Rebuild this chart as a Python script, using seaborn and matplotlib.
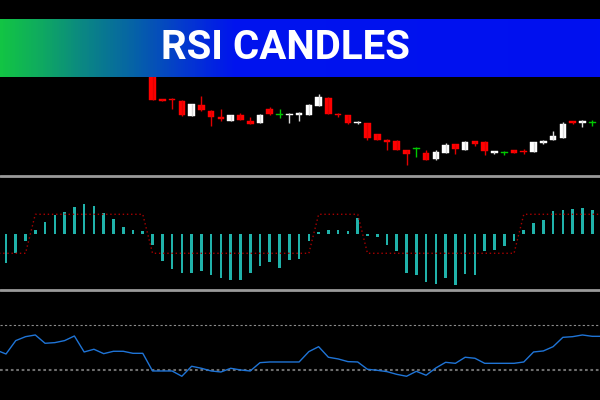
import numpy as np
import matplotlib.pyplot as plt
import seaborn as sns
from matplotlib.colors import LinearSegmentedColormap
from matplotlib.lines import Line2D

title = 'RSI CANDLES'

# candles for bars 15..60, earlier ones are above the visible window
candle_idx = list(range(15, 61))
opens = [130, 101, 101.3, 99, 84.3, 95, 89.3, 83, 79.3, 84.7, 78.7, 77.3, 91.3, 85, 84.7, 85,
         84.7, 94, 102.3, 85.5, 85, 76.7, 77.3, 66.3, 60, 59, 50.3, 51, 47, 41, 46.7, 56,
         50, 58.7, 57.7, 47, 47, 50, 49, 48.3, 56.7, 59.7, 62, 79, 77.3, 77.3]
highs = [132, 101.2, 101.7, 100, 96.2, 103.7, 90.3, 91.3, 85, 86.7, 82.7, 86.3, 92.7, 91.3, 86.7, 88,
         96.3, 106, 103, 87, 85, 79.3, 77.3, 66.3, 61.3, 60, 50.3, 52.7, 50, 50.3, 56.7, 56.3,
         59, 58.7, 59, 48.7, 49, 50, 51.3, 58, 60.3, 69.3, 78, 79, 80.3, 79.7]
lows = [99.5, 98.7, 90.7, 84, 84, 89.3, 74, 78.7, 79.3, 79.5, 75.5, 77.3, 85, 82.3, 77.3, 79,
        84.7, 94, 86, 83, 75.7, 75.7, 60.3, 60, 50, 50, 35, 43.3, 40.3, 40, 46.7, 46.3,
        50, 54, 45, 46, 45.3, 47, 46, 47.7, 55.7, 59.7, 62, 76, 73.3, 73.7]
closes = [99.7, 99.3, 99.7, 85, 96, 90.3, 83.3, 80.7, 85, 79.7, 76, 85, 86.3, 85, 86.3, 86.5,
          95, 102.7, 86, 84.5, 77.3, 78, 61.7, 60.3, 58, 50.3, 46, 51, 40.3, 48.3, 54.7, 50.7,
          58, 56.3, 48.7, 48.5, 47, 47, 48.3, 58, 59, 64, 76, 77.3, 79, 77.3]

hist_idx = list(range(61))
hist_vals = [-28.7, -18.7, -6.7, 3.7, 12, 19, 22, 27, 30, 28, 21, 14.7, 7, 4, 3,
             -10.7, -26.7, -35, -38.7, -38.7, -36.7, -41.3, -44.3, -46, -46, -39.3, -31.7, -28, -33.7, -26, -25.3,
             -6.7, 2, 3.7, 3.7, 3.3, 15.7, -1.7, -2.7, -11, -17.3, -39.3, -41.3, -47.7, -50.3, -44.3,
             -50.7, -39.7, -41, -17, -16, -12, -7, 3.7, 11.3, 14, 22.7, 24, 25, 26, 24]

# signal line, bars -1..61 so it runs to both edges
trend_idx = list(range(-1, 62))
trend_vals = ([-19.3] * 4 + [19.7] * 12 + [-19.3] * 17 + [19.7] * 5 + [-19.3] * 16 + [19.7] * 9)

rsi_idx = list(range(-1, 62))
rsi_vals = [47.7, 44.2, 56.1, 59.6, 61.1, 53.7, 54.3, 56.1, 60.2, 46, 48.4, 44.5, 46.6, 46.6, 44.8, 44.8,
            29.1, 29.1, 29.1, 24.4, 33.3, 31.5, 29.1, 28.2, 31.5, 30, 29.1, 36.5, 37.1, 37.1, 37.1, 37.1,
            46.3, 50.7, 41.3, 39.8, 37.4, 37.1, 30.6, 29.7, 28.5, 26.1, 24.4, 28.8, 25.3, 31.8, 36.8,
            35.9, 41.3, 40.4, 35.9, 35.9, 35.9, 35.9, 37.1, 46, 46.9, 50.7, 59, 59.6, 61.1, 59.9, 59.9]
rsi_levels = [70, 30]

sns.set_theme(style='dark', rc={'axes.facecolor': 'black', 'figure.facecolor': 'black'})

fig = plt.figure(figsize=(6, 4), dpi=100)
xlim = (-0.614, 60.8)

# candles
ax1 = fig.add_axes([0, 1 - 176 / 400, 1, 99 / 400])
o = np.array(opens); c = np.array(closes)
cols = np.where(o == c, '#00c800', np.where(c > o, '#ffffff', '#ff0000'))
wick_cols = np.where(o == c, '#00c800', np.where(c > o, '#d8d8d8', '#e00000'))
ax1.vlines(candle_idx, lows, highs, colors=wick_cols, lw=1)
ax1.bar(candle_idx, np.maximum(np.abs(c - o), 1.0), bottom=np.minimum(o, c), width=0.68,
        color=cols, edgecolor=cols, linewidth=0.3)
ax1.set_xlim(xlim)
ax1.set_ylim(24, 123)
ax1.set_axis_off()

# histogram
ax2 = fig.add_axes([0, 1 - 289 / 400, 1, 111 / 400])
ax2.bar(hist_idx, hist_vals, width=0.27, color='#20b2aa', edgecolor='none', linewidth=0)
sns.lineplot(x=trend_idx, y=trend_vals, ax=ax2, color='#a80000', lw=1, linestyle=(0, (1, 2)))
ax2.set_xlim(xlim)
ax2.set_ylim(-55, 56)
ax2.set_axis_off()

# rsi line
ax3 = fig.add_axes([0, 0, 1, 108 / 400])
ax3.axhline(rsi_levels[0], color='#8c8c8c', lw=0.8, linestyle=(0, (2, 2)))
ax3.axhline(rsi_levels[1], color='#6e6e6e', lw=1.5, linestyle=(0, (1.3, 1.3)))
sns.lineplot(x=rsi_idx, y=rsi_vals, ax=ax3, color='#1f74d6', lw=1)
ax3.set_xlim(xlim)
ax3.set_ylim(3.3, 99.3)
ax3.set_axis_off()

# panel separators
for yp in [176, 290]:
    fy = 1 - yp / 400
    fig.add_artist(Line2D([0, 1], [fy, fy], transform=fig.transFigure, color='#9a9a9a', lw=2))

# banner
axb = fig.add_axes([0, 1 - 77.3 / 400, 1, 58.3 / 400])
cmap = LinearSegmentedColormap.from_list('banner', [
    (0.0, '#12c444'), (0.07, '#0fa862'), (0.13, '#0b8a80'), (0.22, '#0663a6'),
    (0.30, '#043ccc'), (0.39, '#0014ee'), (1.0, '#0010f0')])
axb.imshow(np.linspace(0, 1, 600).reshape(1, -1), aspect='auto', cmap=cmap, extent=(0, 600, 0, 1))
axb.text(285.4, 0.5, title, color='white', fontsize=29, fontweight='bold', family='Roboto',
         ha='center', va='center')
axb.set_xlim(0, 600)
axb.set_ylim(0, 1)
axb.set_axis_off()

fig.savefig('out.png', dpi=100, facecolor='black')
